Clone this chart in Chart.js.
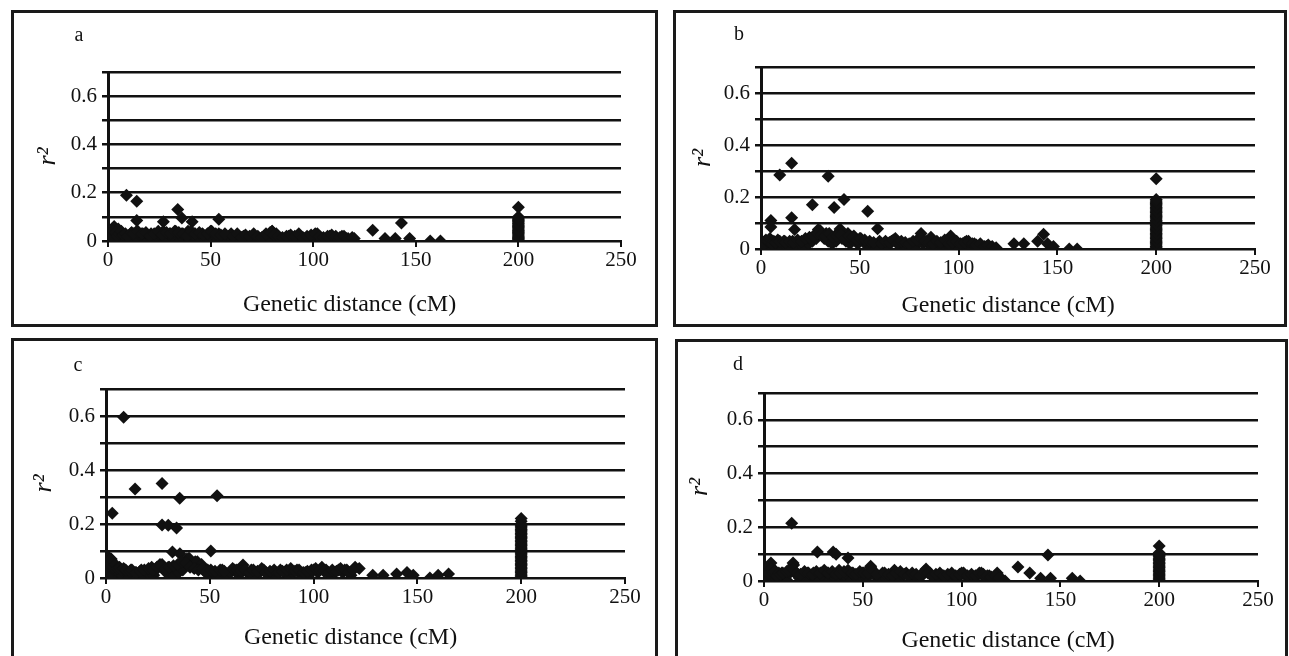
<!DOCTYPE html>
<html>
<head>
<meta charset="utf-8">
<script src="https://cdn.jsdelivr.net/npm/chart.js@4.4.0/dist/chart.umd.min.js"></script>
<style>
    body { margin: 0; background: #fff; width: 1289px; height: 656px; overflow: hidden; position: relative; font-family: "Liberation Serif", serif; }
    .panel { position: absolute; border: 3px solid #1a1a1a; box-sizing: border-box; background: #fff; }
    .panel canvas { position: absolute; left: 0; top: 0; }
    .letter { position: absolute; font-size: 20px; color: #111; transform: translate(-50%, -50%); }
</style>
</head>
<body>
<script>
// Axis ranges and labels
const xMax = 250, xStep = 50;
const yMax = 0.7, yStep = 0.1;
const xTitle = 'Genetic distance (cM)';
const yTitle = 'r\u00B2';
const unlinkedX = 200;

// Panel a: marker pairs (band + outliers)
const aX = [0,0,1,1,2,2,3,3,4,5,5,6,7,8,9,
    10,11,12,13,14,15,16,17,18,19,20,21,22,23,24,25,26,27,28,29,30,31,32,33,34,35,36,37,38,39,
    40,41,42,43,44,45,46,47,48,49,50,51,52,53,54,55,56,57,58,59,60,
    62,64,66,68,70,72,74,76,78,80,82,84,86,88,90,92,94,96,98,100,102,104,106,108,110,112,114,116,118,120,
    9,14,14,27,34,36,41,54,80,129,135,143,140,147,157,162];
const aY = [0.01,0.04,0.0,0.03,0.02,0.05,0.01,0.06,0.03,0.0,0.05,0.02,0.03,0.01,0.02,
    0.0,0.03,0.01,0.02,0.04,0.0,0.02,0.03,0.01,0.0,0.02,0.03,0.01,0.02,0.0,0.03,0.02,0.04,0.01,0.0,0.03,0.02,0.01,0.04,0.02,0.0,0.03,0.01,0.02,0.04,
    0.0,0.02,0.03,0.01,0.02,0.0,0.03,0.01,0.02,0.0,0.04,0.01,0.02,0.0,0.03,0.01,0.02,0.0,0.01,0.02,0.03,
    0.0,0.01,0.02,0.01,0.02,0.0,0.01,0.02,0.01,0.04,0.03,0.01,0.0,0.02,0.01,0.02,0.0,0.01,0.0,0.02,0.03,0.01,0.0,0.02,0.01,0.0,0.02,0.01,0.0,0.01,
    0.19,0.165,0.085,0.08,0.13,0.095,0.08,0.09,0.04,0.045,0.01,0.075,0.01,0.01,0.0,0.0];

// Panel b
const bX = [0,0,1,2,2,3,4,5,6,7,8,9,
    10,11,12,13,14,15,16,17,18,19,20,21,22,23,24,25,26,27,28,29,30,31,32,33,34,35,36,37,38,39,
    40,41,42,43,44,45,46,47,48,49,50,
    52,54,56,58,60,62,64,66,68,70,72,74,76,78,80,82,84,86,88,90,92,94,96,98,100,102,104,106,108,110,112,114,116,
    5,5,9.5,15.5,15.5,17,26,29,34,37,40,42,54,59,81,86,96,128,133,140,143,145,148,156,160];
const bY = [0.01,0.03,0.02,0.0,0.03,0.01,0.02,0.03,0.0,0.02,0.01,0.03,
    0.02,0.0,0.03,0.01,0.02,0.0,0.03,0.02,0.01,0.0,
    0.02,0.01,0.03,0.0,0.02,0.04,0.03,0.05,0.04,0.06,
    0.07,0.05,0.04,0.06,0.03,0.05,0.02,0.04,0.03,0.06,
    0.07,0.04,0.05,0.03,0.06,0.02,0.04,0.05,0.03,0.02,0.04,
    0.03,0.01,0.02,0.0,0.03,0.02,0.01,0.03,0.04,0.02,
    0.01,0.0,0.02,0.01,0.03,0.02,0.03,0.01,0.02,0.0,
    0.01,0.02,0.03,0.01,0.0,0.02,0.03,0.01,0.02,0.01,
    0.0,0.01,0.0,
    0.11,0.085,0.285,0.33,0.12,0.075,0.17,0.075,0.28,0.16,0.077,0.19,0.145,0.078,0.06,0.045,0.05,0.02,0.02,0.03,0.057,0.02,0.01,0.0,0.0];

// Panel c
const cX = [0,0,1,1,2,2,3,3,4,5,6,7,8,9,
    10,11,12,13,14,15,16,17,18,19,20,21,22,23,24,25,26,27,28,29,30,31,32,33,34,35,36,37,38,39,
    40,41,42,43,44,45,46,47,48,49,50,
    52,54,56,58,60,62,64,66,68,70,72,74,76,78,80,82,84,86,88,90,92,94,96,98,100,102,104,106,108,110,112,114,116,118,120,122,
    3,8.5,14,27,27,30,34,32,35.6,35.5,50.5,53.5,128.5,133.5,140,145,148,156,160,165];
const cY = [0.02,0.07,0.0,0.08,0.04,0.06,0.01,0.05,0.03,0.04,0.02,0.03,0.01,0.03,
    0.02,0.0,0.03,0.01,0.02,0.0,0.02,0.03,0.01,0.0,
    0.02,0.03,0.04,0.01,0.03,0.04,0.05,0.05,0.03,0.02,
    0.04,0.02,0.03,0.01,0.04,0.02,0.05,0.03,0.06,0.07,
    0.073,0.05,0.04,0.06,0.06,0.04,0.05,0.03,0.02,0.03,0.01,
    0.02,0.0,0.03,0.01,0.02,0.03,0.01,0.048,0.02,0.03,
    0.01,0.02,0.03,0.0,0.02,0.01,0.03,0.02,0.01,0.02,
    0.03,0.01,0.02,0.0,0.03,0.02,0.04,0.03,0.01,0.02,
    0.03,0.02,0.03,0.01,0.04,0.035,
    0.24,0.595,0.33,0.35,0.196,0.195,0.185,0.096,0.09,0.295,0.1,0.305,0.01,0.01,0.015,0.02,0.01,0.0,0.01,0.015];

// Panel d
const dX = [0,0,1,2,2,3,4,5,6,7,8,9,
    10,11,12,13,14,15,16,17,18,19,20,21,22,23,24,25,26,27,28,29,30,31,32,33,34,35,36,37,38,39,
    40,41,42,43,44,45,46,47,48,49,50,
    52,54,56,58,60,62,64,66,68,70,72,74,76,78,80,82,84,86,88,90,92,94,96,98,100,102,104,106,108,110,112,114,116,118,120,122,
    14,27,35,36.5,42.5,3.5,14.7,54,82,128.5,134.5,143.7,140,145,156,160];
const dY = [0.01,0.03,0.02,0.0,0.04,0.02,0.05,0.03,0.01,0.02,0.0,0.03,
    0.01,0.02,0.0,0.03,0.04,0.06,0.03,0.02,0.01,0.0,
    0.02,0.01,0.03,0.0,0.02,0.03,0.01,0.02,0.0,0.03,
    0.02,0.01,0.03,0.0,0.02,0.03,0.01,0.02,0.04,0.0,
    0.02,0.03,0.01,0.02,0.0,0.03,0.02,0.01,0.0,0.02,0.03,
    0.01,0.05,0.02,0.0,0.03,0.01,0.02,0.04,0.01,0.02,
    0.03,0.0,0.02,0.01,0.02,0.04,0.03,0.01,0.0,0.02,
    0.01,0.02,0.0,0.01,0.03,0.02,0.01,0.0,0.02,0.03,
    0.01,0.02,0.0,0.03,0.01,0.0,
    0.215,0.108,0.108,0.1,0.086,0.067,0.067,0.055,0.045,0.052,0.03,0.097,0.01,0.01,0.01,0.0];

// Second layer of the dense band, same x positions in every panel
const halfX = [0.5,1.5,2.5,3.5,4.5,5.5,6.5,7.5,8.5,9.5,11.5,12.5,
    14.5,16.5,18.5,20.5,22.5,24.5,26.5,28.5,30.5,32.5,34.5,36.5,38.5,40.5,42.5,44.5,46.5,48.5,50.5,
    52.5,55,57,
    61,63,65,67,69,71,73,75,77,79,81,83,85,87,89,91,93,95,97,99,101,103,105,107,109,111,113,115,117,119];
const aHalfY = [0.03,0.02,0.04,0.035,0.02,0.03,0.04,0.025,0.03,0.02,0.035,0.03,
    0.04,0.03,0.035,0.02,0.03,0.04,0.025,0.035,0.03,0.04,0.035,0.03,0.02,0.04,0.03,0.035,0.025,0.03,0.04,
    0.03,0.025,0.03,
    0.02,0.03,0.015,0.025,0.02,0.03,0.02,0.015,0.03,0.035,0.025,0.02,0.015,0.02,0.025,0.02,0.03,0.015,0.02,0.025,0.03,0.02,0.015,0.02,0.025,0.02,0.015,0.02,0.01,0.015];
const bHalfY = [0.03,0.02,0.035,0.03,0.04,0.02,0.03,0.025,0.035,0.03,0.03,0.025,
    0.03,0.025,0.035,0.03,0.04,0.045,0.05,0.06,0.055,0.05,0.06,0.045,0.05,0.055,0.04,0.05,0.045,0.035,0.04,
    0.035,0.03,0.025,
    0.02,0.03,0.025,0.035,0.02,0.03,0.025,0.02,0.03,0.035,0.04,0.03,0.025,0.02,0.03,0.025,0.035,0.02,0.025,0.03,0.02,0.025,0.03,0.02,0.015,0.02,0.01,0.015,0.01,0.005];
const cHalfY = [0.06,0.05,0.07,0.04,0.05,0.035,0.04,0.03,0.035,0.03,0.025,0.03,
    0.02,0.025,0.03,0.035,0.03,0.04,0.045,0.035,0.04,0.045,0.05,0.06,0.055,0.04,0.035,0.03,0.035,0.025,0.03,
    0.025,0.03,0.025,
    0.035,0.03,0.025,0.03,0.02,0.03,0.025,0.035,0.02,0.025,0.03,0.02,0.025,0.03,0.035,0.025,0.03,0.02,0.025,0.03,0.035,0.03,0.025,0.02,0.03,0.025,0.035,0.03,0.02,0.03];
const dHalfY = [0.04,0.05,0.03,0.045,0.03,0.035,0.02,0.03,0.025,0.03,0.035,0.04,
    0.045,0.03,0.025,0.035,0.03,0.025,0.035,0.03,0.04,0.03,0.035,0.025,0.03,0.035,0.04,0.03,0.025,0.035,0.03,
    0.03,0.04,0.025,
    0.03,0.025,0.02,0.03,0.035,0.025,0.02,0.03,0.025,0.02,0.035,0.03,0.02,0.025,0.03,0.02,0.025,0.03,0.02,0.025,0.03,0.02,0.025,0.02,0.03,0.025,0.02,0.015,0.02,0.01];

// r2 values stacked at the unlinked class (200 cM)
const aCol = [0,0.005,0.01,0.015,0.02,0.025,0.03,0.035,0.04,0.045,0.05,0.055,0.06,0.065,0.07,0.075,0.08,0.085,0.09,0.095,0.1,0.14];
const bCol = [0,0.005,0.01,0.015,0.02,0.025,0.03,0.035,0.04,0.045,0.05,0.055,0.06,0.065,0.07,0.075,0.08,0.085,0.09,0.095,0.1,
    0.105,0.11,0.115,0.12,0.125,0.13,0.135,0.14,0.145,0.15,0.155,0.16,0.165,0.17,0.175,0.18,0.185,0.19,0.27];
const cCol = [0,0.005,0.01,0.015,0.02,0.025,0.03,0.035,0.04,0.045,0.05,0.055,0.06,0.065,0.07,0.075,0.08,0.085,0.09,0.095,0.1,
    0.105,0.11,0.115,0.12,0.125,0.13,0.135,0.14,0.145,0.15,0.155,0.16,0.165,0.17,0.175,0.18,0.185,0.19,0.195,0.2,0.21,0.22];
const dCol = [0,0.005,0.01,0.015,0.02,0.025,0.03,0.035,0.04,0.045,0.05,0.055,0.06,0.065,0.07,0.075,0.08,0.085,0.09,0.095,0.1,0.105,0.13];

// Page layout of the four boxes (outer box, plot area, title spots)
const panels = [
    { name: 'a', xs: aX, ys: aY, half: aHalfY, col: aCol, box: [11, 10, 658, 327], plot: [108, 621, 72, 241], yTitleX: 47, xTitleY: 305, letter: [79, 34], shift: 14 },
    { name: 'b', xs: bX, ys: bY, half: bHalfY, col: bCol, box: [673, 10, 1287, 327], plot: [761, 1255, 67, 249], yTitleX: 702, xTitleY: 306, letter: [739, 33], shift: 0 },
    { name: 'c', xs: cX, ys: cY, half: cHalfY, col: cCol, box: [11, 338, 658, 672], plot: [106, 625, 389, 578], yTitleX: 43, xTitleY: 638, letter: [78, 364], shift: 15 },
    { name: 'd', xs: dX, ys: dY, half: dHalfY, col: dCol, box: [675, 339, 1288, 672], plot: [764, 1258, 393, 581], yTitleX: 699, xTitleY: 641, letter: [738, 363], shift: 3 }
];

const ink = '#111';
const tickFont = { family: 'Liberation Serif', size: 21 };
const titleSize = 24;

panels.forEach(function (p) {
    const [bl, bt, br, bb] = p.box;
    const ox = bl + 3, oy = bt + 3;
    const cw = br - bl - 6, ch = bb - bt - 6;

    const div = document.createElement('div');
    div.className = 'panel';
    div.style.left = bl + 'px';
    div.style.top = bt + 'px';
    div.style.width = (br - bl) + 'px';
    div.style.height = (bb - bt) + 'px';
    const canvas = document.createElement('canvas');
    canvas.width = cw;
    canvas.height = ch;
    canvas.style.width = cw + 'px';
    canvas.style.height = ch + 'px';
    div.appendChild(canvas);
    document.body.appendChild(div);

    const letter = document.createElement('span');
    letter.className = 'letter';
    letter.textContent = p.name;
    letter.style.left = p.letter[0] + 'px';
    letter.style.top = p.letter[1] + 'px';
    document.body.appendChild(letter);

    // chart area inside the canvas
    const left = p.plot[0] - ox, right = p.plot[1] - ox;
    const top = p.plot[2] - oy, bottom = p.plot[3] - oy;
    const lh = titleSize * 1.2;
    const padLeft = p.yTitleX - ox - lh / 2;
    const yW = left - padLeft;
    const xH = p.xTitleY - oy + lh / 2 - bottom;
    const padBottom = ch - bottom - xH;

    // trailing spaces nudge the x title to the left like in the figure
    const spaces = ' '.repeat(Math.round(p.shift * 2 / 6));

    const points = [];
    for (let i = 0; i < Math.min(p.xs.length, p.ys.length); i++) {
        points.push({ x: p.xs[i], y: p.ys[i] });
    }
    for (let i = 0; i < Math.min(halfX.length, p.half.length); i++) {
        points.push({ x: halfX[i], y: p.half[i] });
    }
    p.col.forEach(function (v) { points.push({ x: unlinkedX, y: v }); });

    new Chart(canvas, {
        type: 'scatter',
        data: {
            datasets: [{
                data: points,
                pointStyle: 'rectRot',
                pointRadius: 6.5,
                pointBorderWidth: 0,
                backgroundColor: ink,
                borderColor: ink
            }]
        },
        options: {
            responsive: false,
            animation: false,
            devicePixelRatio: 1,
            layout: { padding: { left: padLeft, top: top, right: cw - right, bottom: padBottom } },
            plugins: { legend: { display: false }, tooltip: { enabled: false } },
            scales: {
                x: {
                    type: 'linear',
                    min: 0,
                    max: xMax,
                    afterFit: function (s) { s.height = xH; s.paddingLeft = 0; s.paddingRight = 0; },
                    ticks: { stepSize: xStep, autoSkip: false, maxRotation: 0, padding: 1, color: ink, font: tickFont },
                    grid: { drawOnChartArea: false, drawTicks: true, tickLength: 6, color: ink, lineWidth: 2 },
                    border: { display: true, color: ink, width: 2 },
                    title: { display: true, text: xTitle + spaces, color: ink, padding: 0, font: { family: 'Liberation Serif', size: titleSize } }
                },
                y: {
                    min: 0,
                    max: yMax,
                    afterFit: function (s) { s.width = yW; s.paddingTop = 0; s.paddingBottom = 0; },
                    ticks: {
                        stepSize: yStep,
                        autoSkip: false,
                        padding: 5,
                        color: ink,
                        font: tickFont,
                        callback: function (v) {
                            const k = Math.round(v * 10);
                            if (k % 2 !== 0 || k > 6) return '';
                            return k === 0 ? '0' : (k / 10).toFixed(1);
                        }
                    },
                    grid: { color: ink, lineWidth: 2.5, tickLength: 6 },
                    border: { display: true, color: ink, width: 3 },
                    title: { display: true, text: yTitle, color: ink, padding: 0, font: { family: 'Liberation Serif', size: 26, style: 'italic' } }
                }
            }
        }
    });
});
</script>
</body>
</html>
